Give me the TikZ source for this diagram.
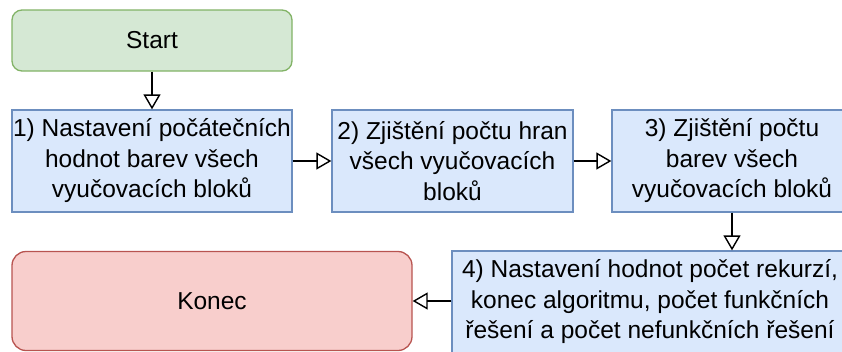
\documentclass[tikz,border=0pt]{standalone}
\usepackage{fontspec}
\setmainfont{Liberation Sans}
\usetikzlibrary{arrows.meta}
\definecolor{greenfill}{HTML}{D5E8D4}
\definecolor{greenline}{HTML}{82B366}
\definecolor{bluefill}{HTML}{DAE8FC}
\definecolor{blueline}{HTML}{6C8EBF}
\definecolor{redfill}{HTML}{F8CECC}
\definecolor{redline}{HTML}{B85450}
\tikzset{
  box/.style={draw, line width=1.3pt, align=center, inner sep=0pt,
    font=\fontsize{24.5}{30.5}\selectfont},
  startbox/.style={box, fill=greenfill, draw=greenline, rounded corners=10pt},
  stepbox/.style={box, fill=bluefill, draw=blueline},
  endbox/.style={box, fill=redfill, draw=redline, rounded corners=14pt},
  flow/.style={line width=1.4pt,
    -{Triangle[open, length=15pt, width=17pt, fill=white]}}
}
\begin{document}
\begin{tikzpicture}[x=1pt, y=-1pt]
  \useasboundingbox (0,0) rectangle (842,351);
  \fill[white] (0,0) rectangle (842,351);
  \clip (0,0) rectangle (842,351);

  \node[startbox, minimum width=280pt, minimum height=61pt] (start) at (152,40.5) {Start};
  \node[stepbox, minimum width=280pt, minimum height=102pt] (s1) at (152,161)
    {1) Nastavení počátečních\\hodnot barev všech\\vyučovacích bloků};
  \node[stepbox, minimum width=241pt, minimum height=102pt] (s2) at (452.5,161)
    {2) Zjištění počtu hran\\všech vyučovacích\\bloků};
  \node[stepbox, minimum width=240pt, minimum height=102pt] (s3) at (732,161)
    {3) Zjištění počtu\\barev všech\\vyučovacích bloků};
  \node[stepbox, minimum width=396pt, minimum height=102pt] (s4) at (650,302)
    {4) Nastavení hodnot počet rekurzí,\\konec algoritmu, počet funkčních\\řešení a počet nefunkčních řešení};
  \node[endbox, minimum width=400pt, minimum height=99pt] (end) at (212,301) {Konec};

  \draw[flow] (start) -- (s1);
  \draw[flow] (s1) -- (s2);
  \draw[flow] (s2) -- (s3);
  \draw[flow] (s3.south) coordinate (s3b) -- (s3b |- s4.north);
  \draw[flow] (s4.west |- end.east) -- (end.east);
\end{tikzpicture}
\end{document}
